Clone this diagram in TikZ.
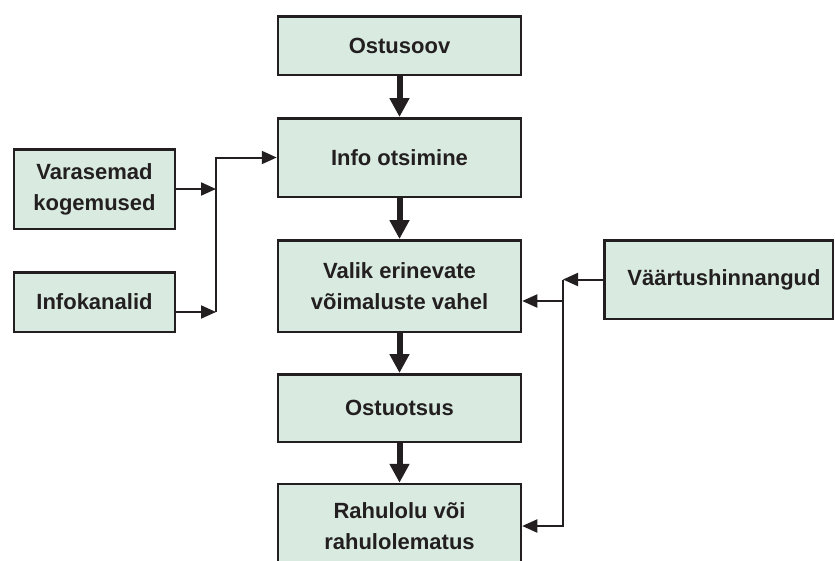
\documentclass[tikz,border=0pt]{standalone}
\usepackage{fontspec}
\setmainfont{Liberation Sans}
\usetikzlibrary{arrows.meta}
\definecolor{boxfill}{RGB}{217,235,224}
\definecolor{ink}{RGB}{35,31,32}
\begin{document}
\begin{tikzpicture}[x=1pt,y=-1pt,
  stepbox/.style={draw=ink, line width=2.5pt, fill=boxfill, text=ink,
    align=center, inner sep=0pt,
    font=\bfseries\fontsize{22}{31}\selectfont},
  mainbox/.style={stepbox, minimum width=243pt},
  sidebox/.style={stepbox, minimum width=161pt},
  flow/.style={draw=ink, line width=6pt, -{Triangle[width=19pt,length=19pt]}},
  feed/.style={draw=ink, line width=2pt, -{Triangle[width=13pt,length=15pt]}}]
  \useasboundingbox (0,0) rectangle (835,560);
  \clip (0,0) rectangle (835,560);

  % main chain of the purchase process
  \node[mainbox, minimum height=58.5pt] (ostusoov)  at (399.5,45.5) {Ostusoov};
  \node[mainbox, minimum height=78.5pt] (info)      at (399.5,157.5) {Info otsimine};
  \node[mainbox, minimum height=91.5pt] (valik)     at (399.5,286) {Valik erinevate\\võimaluste vahel};
  \node[mainbox, minimum height=67.5pt] (ostuotsus) at (399.5,408) {Ostuotsus};
  \node[mainbox, minimum height=84pt]   (rahulolu)  at (399.5,526) {Rahulolu või\\rahulolematus};

  % influencing factors
  \node[sidebox, minimum height=79.5pt] (varasemad)   at (94.5,189) {Varasemad\\kogemused};
  \node[sidebox, minimum height=59.5pt] (infokanalid) at (94.5,302) {Infokanalid};
  \node[stepbox, minimum width=228.5pt, minimum height=78.5pt] (vaartus) at (718.5,279.5) {\hspace*{11pt}Väärtushinnangud};

  % junction points of the thin connectors
  \coordinate (jl) at (216,158);
  \coordinate (jr) at (563,280);
  \coordinate (ik) at ([yshift=-10pt]infokanalid.east);
  \coordinate (vk) at ([yshift=-15pt]valik.east);

  % thick arrows between the steps
  \draw[flow] (ostusoov) -- (info);
  \draw[flow] (info) -- (valik);
  \draw[flow] (valik) -- (ostuotsus);
  \draw[flow] (ostuotsus) -- (rahulolu);

  % left-hand inputs
  \draw[feed] (varasemad.east) -- (varasemad.east -| jl);
  \draw[feed] (ik) -- (ik -| jl);
  \draw[feed] (ik -| jl) |- (info.west);

  % right-hand input
  \draw[feed] (vaartus.west) -- (vaartus.west -| jr);
  \draw[feed] (vaartus.west -| jr) |- (rahulolu.east);
  \draw[feed] (vk -| jr) -- (vk);
\end{tikzpicture}
\end{document}
